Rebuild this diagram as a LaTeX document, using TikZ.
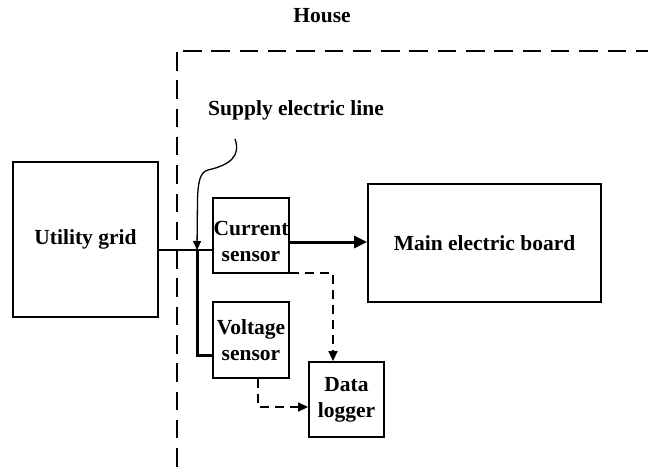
\documentclass[tikz,border=0pt]{standalone}
\usepackage{fontspec}
\setmainfont{Liberation Serif}
\usetikzlibrary{arrows.meta}
\begin{document}
\begin{tikzpicture}[x=1pt,y=-1pt,
  box/.style={draw, line width=1.8pt, inner sep=0pt, align=center,
    font=\fontsize{21.5}{26}\selectfont\bfseries},
  lbl/.style={inner sep=0pt, font=\fontsize{21.5}{26}\selectfont\bfseries},
  border/.style={line width=2pt, dash pattern=on 18.5pt off 9.8pt},
  feed/.style={line width=1.6pt},
  heavy/.style={line width=3pt},
  sig/.style={line width=1.4pt, dash pattern=on 9pt off 6pt},
]
\useasboundingbox (0,0) rectangle (648,472);

% house boundary
\draw[border] (177,52) -- (177,472);
\draw[border] (183,51) -- (648,51);

% labels
\node[lbl] (house) at (322,16) {House};
\node[lbl] (supply) at (296,110) {Supply electric line};

% boxes
\node[box, minimum width=145pt, minimum height=155pt] (grid) at (85.5,239.5) {Utility grid};
\node[box, minimum width=76pt, minimum height=75pt,
  label={[lbl, align=center, yshift=-6pt]center:Current\\sensor}] (cur) at (251,235.5) {};
\node[box, minimum width=76pt, minimum height=76pt] (volt) at (251,340) {Voltage\\sensor};
\node[box, minimum width=75pt, minimum height=75pt] (dl) at (346.5,399.5) {Data\\logger};
\node[box, minimum width=233pt, minimum height=118pt] (main) at (484.5,243) {Main electric board};

% supply line
\coordinate (j) at (197,250);
\draw[feed] (grid.east |- j) -- (cur.west |- j);
\draw[heavy] (j) |- ([yshift=-15pt]volt.west);
\coordinate (out) at ([yshift=-6.5pt]cur.east);
\draw[heavy, -{Triangle[length=13pt,width=12pt]}] (out) -- (main.west |- out);

% pointer curve from label
\coordinate (cstart) at (235,139);
\draw[line width=1.3pt, -{Triangle[length=9pt,width=8pt]}]
  (cstart) .. controls (241,156) and (230,165) .. (208,170)
  .. controls (200,172) and (198,182) .. (197.5,200) -- (j);

% signal lines
\draw[sig, -{Triangle[length=10pt,width=9pt]}] ([yshift=1pt]cur.south east) -| ([xshift=-13.5pt]dl.north);
\draw[sig, -{Triangle[length=10pt,width=9pt]}] ([xshift=7pt]volt.south) |- ([yshift=-7.5pt]dl.west);
\end{tikzpicture}
\end{document}
